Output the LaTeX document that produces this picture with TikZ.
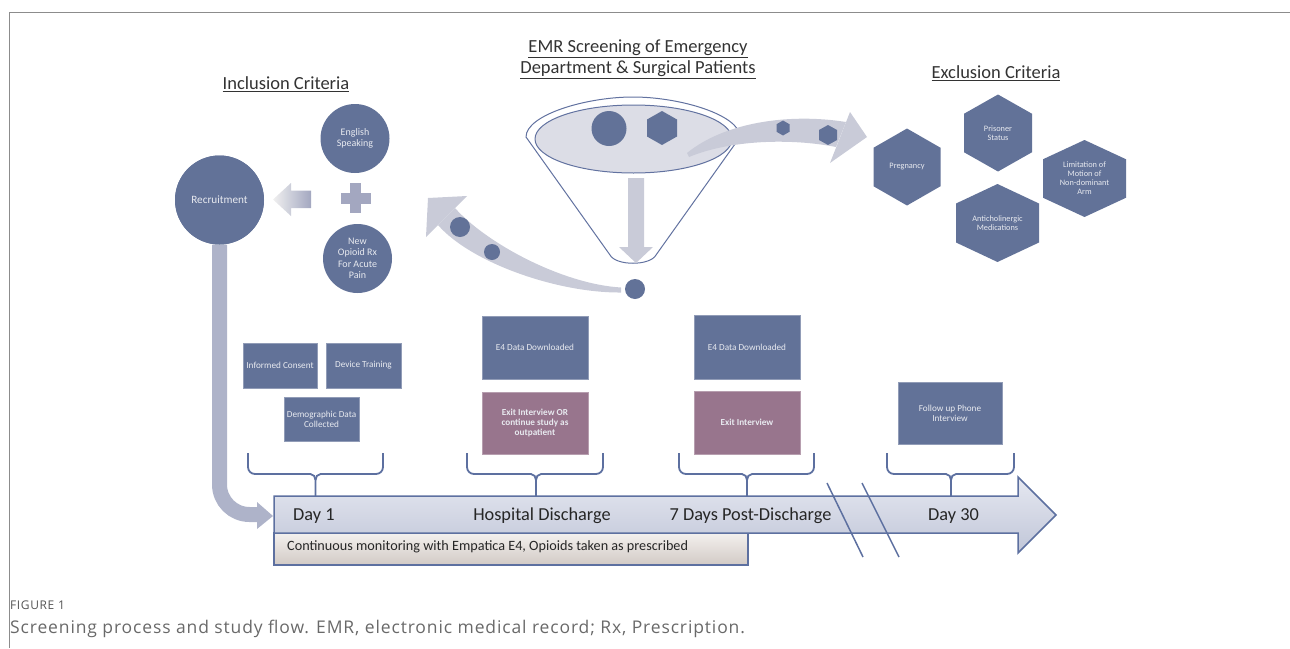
\documentclass[tikz,border=0pt]{standalone}
\usepackage{fontspec}
\setmainfont{Carlito}
\newfontfamily\capfont[LetterSpace=5]{Open Sans}
\usetikzlibrary{shapes.geometric}
\definecolor{slate}{RGB}{98,114,152}
\definecolor{mauve}{RGB}{152,117,141}
\definecolor{arrowgray}{RGB}{201,203,216}
\definecolor{innerc}{RGB}{220,221,230}
\definecolor{funnelc}{RGB}{98,114,160}
\definecolor{barc}{RGB}{174,179,201}
\definecolor{plusc}{RGB}{163,167,192}
\definecolor{txtlight}{RGB}{232,234,240}
\definecolor{titlec}{RGB}{51,51,51}
\definecolor{framec}{RGB}{140,140,140}
\definecolor{tlTop}{RGB}{230,232,241}
\definecolor{tlBot}{RGB}{192,198,216}
\definecolor{tlLine}{RGB}{93,112,160}
\definecolor{lbTop}{RGB}{243,240,238}
\definecolor{lbBot}{RGB}{210,202,197}
\definecolor{capc}{RGB}{105,105,105}
\definecolor{figc}{RGB}{85,85,85}
\newcommand\hexa[6]{%
  \fill[slate] ({#2},{#3-#5}) -- ({#2+#4},{#3-#5/2}) -- ({#2+#4},{#3+#5/2}) -- ({#2},{#3+#5}) -- ({#2-#4},{#3+#5/2}) -- ({#2-#4},{#3-#5/2}) -- cycle;
  \node[hextxt] (#1) at (#2,#3) {#6};}
\newcommand\bracep[3]{%
  \draw[bracec] (#1,453) -- (#1,467) to[out=-90,in=180] ({#1+7},474) -- ({#2-5},474) to[out=0,in=90] (#2,480) -- (#2,496);
  \draw[bracec] (#2,480) to[out=90,in=180] ({#2+5},474) -- ({#3-7},474) to[out=0,in=-90] (#3,467) -- (#3,453);}
\begin{document}
\begin{tikzpicture}[x=1pt,y=-1pt,
  title/.style={text=titlec, font=\fontsize{18.5}{21}\selectfont, align=center},
  circtxt/.style={circle, fill=slate, text=txtlight, align=center, inner sep=0pt, font=\fontsize{10}{11.5}\selectfont},
  hextxt/.style={text=txtlight, align=center, inner sep=0pt, font=\fontsize{8.3}{9}\selectfont},
  box/.style={fill=slate, draw=slate!70!white, line width=0.6pt, text=txtlight, align=center, inner sep=2pt, font=\fontsize{9.2}{10}\selectfont},
  mbox/.style={box, fill=mauve, draw=mauve!70!white, font=\fontsize{9.2}{10}\selectfont\bfseries},
  bracec/.style={draw=tlLine, line width=1.8pt},
  tllabel/.style={text=black!85, font=\fontsize{18.3}{20}\selectfont, inner sep=0pt},
]
\useasboundingbox (0,0) rectangle (1290,648);
% frame
\draw[framec, line width=1pt] (1290,12) -- (9.5,12) -- (9.5,648);

% titles
\node[title] (inctitle) at (286,84) {\underline{Inclusion Criteria}};
\node[title] (emrtitle) at (638,59) {\underline{EMR Screening of Emergency}\\\underline{Department \& Surgical Patients}};
\node[title] (exctitle) at (996,73) {\underline{Exclusion Criteria}};

% recruitment bar into timeline
\coordinate (recend) at (258,514.5);
\node[circtxt, minimum size=89pt] (rec) at (219.5,200) {};
\draw[barc, line width=15pt, rounded corners=30pt] (rec.south) |- (recend);
\fill[barc] (257,502) -- (273,516) -- (257,529) -- cycle;
\node[circtxt, minimum size=89pt, font=\fontsize{11.2}{13}\selectfont] (rec2) at (219.5,200) {Recruitment};

% inclusion circles
\node[circtxt, minimum size=69pt] (eng) at (355,138.5) {English\\Speaking};
\node[circtxt, minimum size=69pt] (opi) at (357.5,258.5) {New\\Opioid Rx\\For Acute\\Pain};
% plus
\fill[plusc] (349.5,183) rectangle (361,213);
\fill[plusc] (341,193) rectangle (371,204);
% small left arrow
\path[left color=black!6, right color=plusc] (273,199.5) -- (291,183) -- (291,190.5) -- (311,190.5) -- (311,208) -- (291,208) -- (291,216) -- cycle;

% funnel
\filldraw[fill=white, draw=funnelc, line width=1pt] (526,137) .. controls (526,114.9) and (585.9,97) .. (633,97) .. controls (680.1,97) and (740,114.9) .. (740,137) -- (656,255) .. controls (650,266) and (616,266) .. (610,255) -- cycle;
\filldraw[fill=innerc, draw=funnelc, line width=1pt] (633.5,139) ellipse [x radius=98.5pt, y radius=34pt];
\node[circle, fill=slate, minimum size=35pt, inner sep=0pt] (fcirc) at (609,128.5) {};
\hexa{fhex}{662}{128}{15}{17}{}
\fill[arrowgray] (628,178) -- (644,178) -- (644,247) -- (653,247) -- (636,263) -- (619,247) -- (628,247) -- cycle;

% left curved arrow
\fill[arrowgray] (455,208) .. controls (486,243) and (562,284) .. (621,287.5) -- (621,292.5) .. controls (556,293) and (470,262) .. (438,225) -- cycle;
\fill[arrowgray] (467,196) -- (428,198) -- (426,237) -- cycle;
\node[circle, fill=slate, minimum size=20pt, inner sep=0pt] (lc1) at (460,227) {};
\node[circle, fill=slate, minimum size=16pt, inner sep=0pt] (lc2) at (492,252) {};
\node[circle, fill=slate, minimum size=20pt, inner sep=0pt] (fout) at (635,289) {};

% right curved arrow
\fill[arrowgray] (687,153) .. controls (725,122) and (790,113) .. (846,122) -- (836,147) .. controls (790,138) and (730,140) .. (689,157) -- cycle;
\fill[arrowgray] (850,112) -- (867,137) -- (830,163) -- cycle;
\hexa{rh1}{783}{128}{6.5}{7.5}{}
\hexa{rh2}{828}{135}{9}{10}{}

% exclusion hexagons
\hexa{preg}{907}{167}{33.5}{38.5}{Pregnancy}
\hexa{pris}{998}{133}{34}{38.5}{Prisoner\\Status}
\hexa{lim}{1084.5}{178.5}{41.5}{38.5}{Limitation of\\Motion of\\Non-dominant\\Arm}
\hexa{anti}{997.5}{223}{41.5}{39}{Anticholinergic\\Medications}

% boxes
\node[box, minimum width=74pt, minimum height=45pt] (ic) at (280,365.5) {Informed Consent};
\node[box, minimum width=75pt, minimum height=45pt] (dt) at (363.5,365.5) {Device Training};
\node[box, minimum width=75pt, minimum height=44pt] (dd) at (321.5,419) {Demographic Data\\Collected};
\node[box, minimum width=106pt, minimum height=63pt] (e4a) at (535,347.5) {E4 Data Downloaded};
\node[mbox, minimum width=106pt, minimum height=62pt] (exa) at (535,423) {Exit Interview OR\\continue study as\\outpatient};
\node[box, minimum width=106pt, minimum height=64pt] (e4b) at (747,347) {E4 Data Downloaded};
\node[mbox, minimum width=106pt, minimum height=63pt] (exb) at (747,422.5) {Exit Interview};
\node[box, minimum width=104pt, minimum height=62pt] (fu) at (950,413) {Follow up Phone\\Interview};

% braces
\bracep{248}{315.5}{383}
\bracep{467}{536}{603}
\bracep{679}{747}{814}
\bracep{887}{951}{1014}

% timeline
\path[draw=tlLine, line width=1.5pt, top color=lbTop, bottom color=lbBot] (274,533) rectangle (748,565);
\path[draw=tlLine, line width=1.5pt, top color=tlTop, bottom color=tlBot, line join=miter] (274,496) -- (1018,496) -- (1018,477) -- (1056,515) -- (1018,553) -- (1018,533) -- (274,533) -- cycle;
\draw[tlLine, line width=1.5pt] (827,483) -- (863,557);
\draw[tlLine, line width=1.5pt] (862,483) -- (899,557);
\node[tllabel, anchor=west] (d1) at (293,516) {Day 1};
\node[tllabel] (hd) at (542,516) {Hospital Discharge};
\node[tllabel] (d7) at (750.5,516) {7 Days Post-Discharge};
\node[tllabel] (d30) at (953.5,516) {Day 30};
\node[anchor=west, inner sep=0pt, text=black!85, font=\fontsize{14.2}{16}\selectfont] (cm) at (287,547) {Continuous monitoring with Empatica E4, Opioids taken as prescribed};

% caption
\node[anchor=west, inner sep=0pt, text=figc, font=\capfont\fontsize{12}{14}\selectfont] (fig) at (10,605) {FIGURE 1};
\node[anchor=west, inner sep=0pt, text=capc, font=\capfont\fontsize{17.5}{19}\selectfont] (cap) at (10,629) {Screening process and study flow. EMR, electronic medical record; Rx, Prescription.};
\end{tikzpicture}
\end{document}
